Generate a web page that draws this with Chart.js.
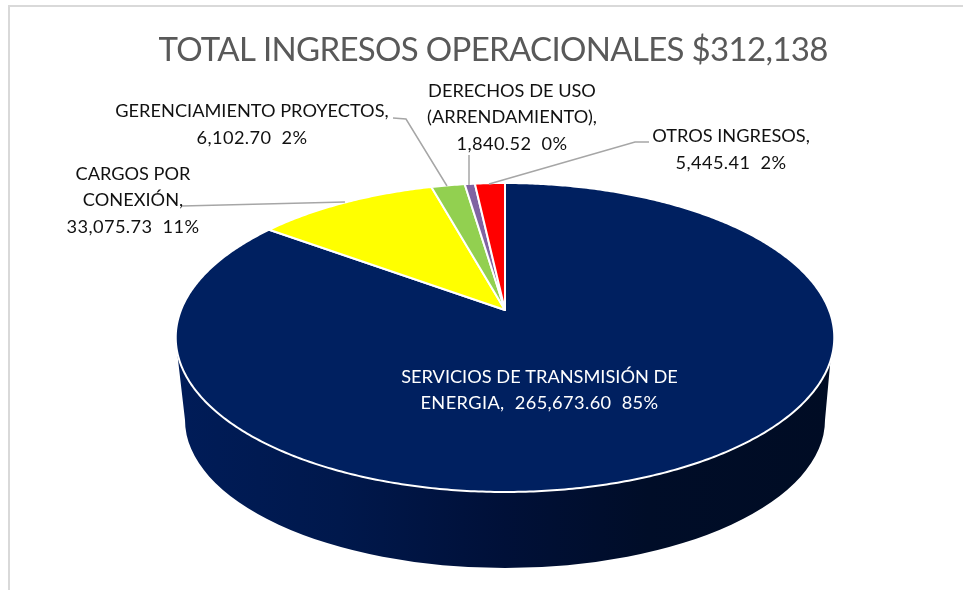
<!DOCTYPE html>
<html>
<head>
<meta charset="utf-8">
<style>html,body{margin:0;padding:0;background:#fff}canvas{display:block}</style>
<script src="https://cdn.jsdelivr.net/npm/chart.js@4/dist/chart.umd.js"></script>
</head>
<body>
<canvas id="c" width="963" height="590"></canvas>
<script>
const titleText = 'TOTAL INGRESOS OPERACIONALES $312,138';
const categories = ['SERVICIOS DE TRANSMISIÓN DE ENERGIA','CARGOS POR CONEXIÓN','GERENCIAMIENTO PROYECTOS','DERECHOS DE USO (ARRENDAMIENTO)','OTROS INGRESOS'];
const values = [265673.60, 33075.73, 6102.70, 1840.52, 5445.41];
const percents = [85, 11, 2, 0, 2];
const colors = ['#002060','#FFFF00','#92D050','#8064A2','#FF0000'];

const fmt = v => v.toLocaleString('en-US',{minimumFractionDigits:2,maximumFractionDigits:2});
const tail = i => fmt(values[i]) + '  ' + percents[i] + '%';

// label layout (lines of text, centre x, first-line centre y, colour)
const labelLayout = [
  {lines:['SERVICIOS DE TRANSMISIÓN DE','ENERGIA,  '+tail(0)], x:539.5, y:377, color:'#ffffff', lh:26},
  {lines:['CARGOS POR','CONEXIÓN,',tail(1)], x:133, y:174, color:'#111111', lh:26.5},
  {lines:['GERENCIAMIENTO PROYECTOS,',tail(2)], x:252, y:111, color:'#111111', lh:27},
  {lines:['DERECHOS DE USO','(ARRENDAMIENTO),',tail(3)], x:512, y:91, color:'#111111', lh:26.5},
  {lines:['OTROS INGRESOS,',tail(4)], x:731, y:136, color:'#111111', lh:27}
];
const leaders = [
  [[182,206],[345,202]],
  [[393,118],[406,119],[447,186]],
  [[469,155],[469,185]],
  [[649,142],[635,142],[489,184]]
];

// perspective projection of the pie's unit disc onto the page
const P = {x:505, y:310, R:324, a:94.4, c:-0.178};
const proj = (u,v) => {
  const d = 1 + P.c*v;
  return [P.x + P.R*u/d, (P.a*v + P.y)/d];
};

Chart.ArcElement.prototype.draw = function(ctx){
  const o = this.options, s = this.startAngle, e = this.endAngle;
  const n = Math.max(4, Math.ceil((e-s)/0.01));
  ctx.save();
  ctx.beginPath();
  ctx.moveTo(P.x,P.y);
  for(let i=0;i<=n;i++){
    const t = s+(e-s)*i/n;
    const p = proj(Math.cos(t),Math.sin(t));
    ctx.lineTo(p[0],p[1]);
  }
  ctx.closePath();
  ctx.fillStyle = o.backgroundColor;
  ctx.fill();
  ctx.lineJoin = 'round';
  ctx.strokeStyle = o.borderColor;
  ctx.lineWidth = o.borderWidth;
  ctx.stroke();
  ctx.restore();
};

const pie3d = {
  id:'pie3d',
  beforeDraw(chart){
    const ctx = chart.ctx;
    ctx.save();
    ctx.fillStyle = '#d9d9d9';
    ctx.fillRect(8,5,955,2);
    ctx.fillRect(8,5,2,585);
    ctx.restore();
    ctx.letterSpacing = '-0.68px';
  },
  beforeDatasetsDraw(chart){
    const ctx = chart.ctx;
    ctx.letterSpacing = '0px';
    const g = ctx.createLinearGradient(176,0,832,0);
    g.addColorStop(0,'#001c58');
    g.addColorStop(0.25,'#00184c');
    g.addColorStop(0.5,'#001038');
    g.addColorStop(0.72,'#000d28');
    g.addColorStop(1,'#000c24');
    ctx.save();
    ctx.beginPath();
    ctx.ellipse(505,420,320,148,0,0,Math.PI);
    ctx.lineTo(175.5,338);
    ctx.lineTo(832.5,338);
    ctx.closePath();
    ctx.fillStyle = g;
    ctx.fill();
    ctx.restore();
  },
  afterDatasetsDraw(chart){
    const ctx = chart.ctx;
    ctx.save();
    ctx.strokeStyle = '#a6a6a6';
    ctx.lineWidth = 1.5;
    leaders.forEach(l=>{
      ctx.beginPath();
      l.forEach((p,i)=> i?ctx.lineTo(p[0],p[1]):ctx.moveTo(p[0],p[1]));
      ctx.stroke();
    });
    ctx.font = '18.2px Lato';
    ctx.textAlign = 'center';
    ctx.textBaseline = 'middle';
    labelLayout.forEach(l=>{
      ctx.fillStyle = l.color;
      l.lines.forEach((t,i)=>{
        ctx.letterSpacing = /\d/.test(t) ? '0.4px' : '0px';
        ctx.fillText(t,l.x,l.y+i*l.lh);
      });
    });
    ctx.restore();
  }
};

new Chart(document.getElementById('c'),{
  type:'pie',
  data:{labels:categories,datasets:[{data:values,backgroundColor:colors,borderColor:'#ffffff',borderWidth:2}]},
  options:{
    responsive:false,
    animation:false,
    layout:{padding:{left:23,top:31}},
    plugins:{
      legend:{display:false},
      tooltip:{enabled:false},
      title:{display:true,text:titleText,color:'#595959',font:{family:'Lato',size:33,weight:'normal'},padding:0}
    }
  },
  plugins:[pie3d]
});
</script>
</body>
</html>
